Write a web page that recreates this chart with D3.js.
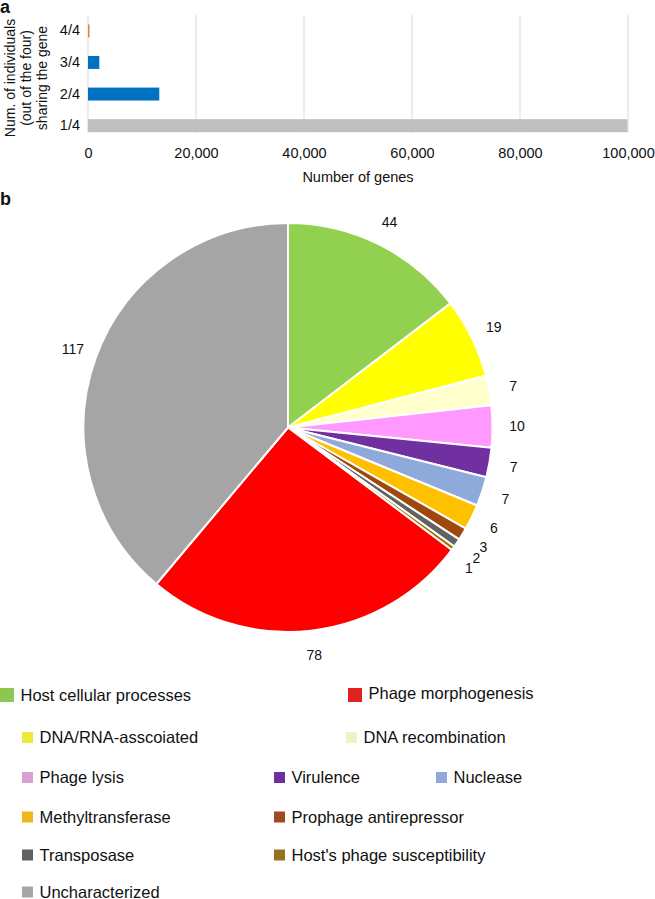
<!DOCTYPE html>
<html><head><meta charset="utf-8">
<script src="https://cdn.jsdelivr.net/npm/d3@7"></script>
<style>
body{margin:0;background:#fff}
svg{display:block;font-family:"Liberation Sans",Arial,Helvetica,sans-serif}
</style>
</head><body>
<svg id="c" width="655" height="899"></svg>
<script>
// ---- Panel a data ----
const barCategories = ["4/4", "3/4", "2/4", "1/4"];
const barValues = [250, 2100, 13200, 99900];
const barColors = ["#ed7d31", "#0070c0", "#0070c0", "#bfbfbf"];
const barTicks = [0, 20000, 40000, 60000, 80000, 100000];

// ---- Panel b data (clockwise from 12 o'clock) ----
const pieCategories = ["Host cellular processes", "DNA/RNA-asscoiated", "DNA recombination", "Phage lysis",
  "Virulence", "Nuclease", "Methyltransferase", "Prophage antirepressor", "Transposase",
  "Host's phage susceptibility", "Phage morphogenesis", "Uncharacterized"];
const pieValues = [44, 19, 7, 10, 7, 7, 6, 3, 2, 1, 78, 117];
const pieColors = ["#92d050", "#ffff00", "#ffffcc", "#ff99ff", "#7030a0", "#8eaadb", "#ffc000",
  "#9e480e", "#636363", "#997300", "#ff0000", "#a5a5a5"];

const legendCategories = ["Host cellular processes", "Phage morphogenesis", "DNA/RNA-asscoiated",
  "DNA recombination", "Phage lysis", "Virulence", "Nuclease", "Methyltransferase",
  "Prophage antirepressor", "Transposase", "Host's phage susceptibility", "Uncharacterized"];
const legendColors = ["#8cc850", "#e02222", "#eee838", "#f3f0c8", "#d9a0d0", "#6f2f9e", "#8faad8",
  "#f3b51e", "#a14a22", "#616161", "#94721e", "#a6a6a6"];

const svg = d3.select("#c");
const TXT = "#111";

// ================= Panel a =================
svg.append("text").attr("x", 0).attr("y", 13).attr("font-size", 18).attr("font-weight", "bold")
  .attr("fill", TXT).text("a");

const x = d3.scaleLinear().domain([0, 100000]).range([88, 628]);
const y = d3.scaleBand().domain(barCategories).range([15, 141.5]).paddingInner(0.59).paddingOuter(0.295);
const gridBottom = 133;

svg.append("g").selectAll("line").data(barTicks).join("line")
  .attr("x1", d => x(d)).attr("x2", d => x(d))
  .attr("y1", 15).attr("y2", gridBottom)
  .attr("stroke", "#d9d9d9").attr("stroke-width", 1);

svg.append("g").selectAll("rect").data(barValues).join("rect")
  .attr("x", x(0))
  .attr("y", (d, i) => y(barCategories[i]))
  .attr("width", d => Math.max(1.5, x(d) - x(0)))
  .attr("height", y.bandwidth())
  .attr("fill", (d, i) => barColors[i]);

const xAxis = svg.append("g").attr("transform", `translate(0,${gridBottom})`)
  .call(d3.axisBottom(x).tickValues(barTicks).tickSize(0).tickPadding(15).tickFormat(d3.format(",")));
xAxis.select(".domain").remove();
xAxis.selectAll("text").attr("font-size", 14.5).attr("fill", TXT).attr("font-family", null);

const yAxis = svg.append("g").attr("transform", `translate(${x(0)},0)`)
  .call(d3.axisLeft(y).tickSize(0).tickPadding(8));
yAxis.select(".domain").remove();
yAxis.selectAll("text").attr("font-size", 14.5).attr("fill", TXT).attr("font-family", null);

svg.append("text").attr("x", (x(0) + x(100000)) / 2).attr("y", 182)
  .attr("text-anchor", "middle").attr("font-size", 14.5).attr("fill", TXT).text("Number of genes");

const yl = svg.append("text").attr("transform", "translate(15,78) rotate(-90)")
  .attr("text-anchor", "middle").attr("font-size", 14).attr("fill", TXT);
["Num. of individuals", "(out of the four)", "sharing the gene"].forEach((t, i) => {
  yl.append("tspan").attr("x", 0).attr("dy", i === 0 ? 0 : 16).text(t);
});

// ================= Panel b =================
svg.append("text").attr("x", 0).attr("y", 205).attr("font-size", 18).attr("font-weight", "bold")
  .attr("fill", TXT).text("b");

const cx = 288, cy = 427.5, R = 204.5;
const pie = d3.pie().sort(null).value(d => d)(pieValues);
const arc = d3.arc().innerRadius(0).outerRadius(R);
const pg = svg.append("g").attr("transform", `translate(${cx},${cy})`);
pg.selectAll("path").data(pie).join("path")
  .attr("d", arc).attr("fill", (d, i) => pieColors[i])
  .attr("stroke", "#fff").attr("stroke-width", 2).attr("stroke-linejoin", "round");

// label angles with simple overlap avoidance
const minGap = 3.2 * Math.PI / 180;
let prev = -Infinity;
const labelAngles = pie.map(d => {
  let a = (d.startAngle + d.endAngle) / 2;
  if (a - prev < minGap) a = prev + minGap;
  prev = a;
  return a;
});
const LR = 229;
pg.selectAll("text").data(pie).join("text")
  .attr("x", (d, i) => LR * Math.sin(labelAngles[i]))
  .attr("y", (d, i) => -LR * Math.cos(labelAngles[i]))
  .attr("text-anchor", "middle").attr("dominant-baseline", "central")
  .attr("font-size", 14).attr("fill", TXT)
  .text(d => d.data);

// ================= Legend =================
const rowY = [695, 737.5, 777.5, 817, 855, 892];
const legendLayout = [
  {x: 0, r: 0, s: 14}, {x: 348, r: 0, s: 14},
  {x: 22, r: 1, s: 11}, {x: 346, r: 1, s: 11},
  {x: 22, r: 2, s: 11}, {x: 274, r: 2, s: 11}, {x: 436, r: 2, s: 11},
  {x: 22, r: 3, s: 11}, {x: 274, r: 3, s: 11},
  {x: 22, r: 4, s: 11}, {x: 274, r: 4, s: 11},
  {x: 22, r: 5, s: 11}
];
const lg = svg.append("g");
legendCategories.forEach((name, i) => {
  const L = legendLayout[i];
  const yc = rowY[L.r];
  lg.append("rect").attr("x", L.x).attr("y", yc - L.s / 2).attr("width", L.s).attr("height", L.s)
    .attr("fill", legendColors[i]);
  lg.append("text").attr("x", L.x + L.s + 6.5).attr("y", yc + 5.5 - (i === 1 ? 2 : 0))
    .attr("font-size", 16.5).attr("fill", TXT).text(name);
});
</script>
</body></html>
